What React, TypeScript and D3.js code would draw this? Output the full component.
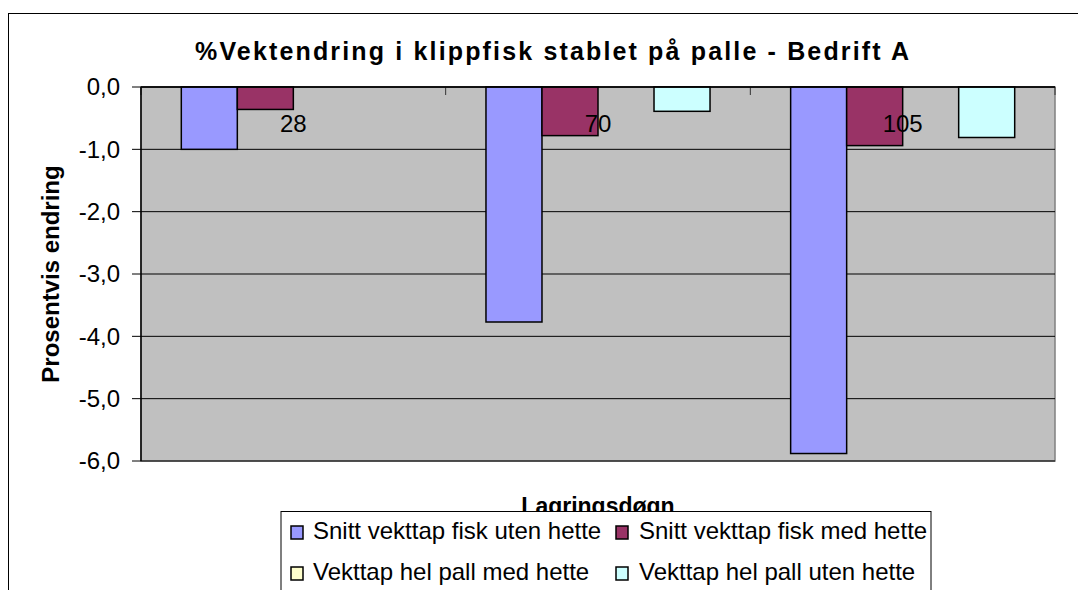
import React from "react";
import * as d3 from "d3";

const categories = ["28", "70", "105"];
const seriesNames = [
  "Snitt vekttap fisk uten hette",
  "Snitt vekttap fisk med hette",
  "Vekttap hel pall med hette",
  "Vekttap hel pall uten hette",
];
const snittUten: (number | null)[] = [-1.0, -3.77, -5.88];
const snittMed: (number | null)[] = [-0.36, -0.78, -0.94];
const pallMed: (number | null)[] = [null, null, null];
const pallUten: (number | null)[] = [null, -0.39, -0.81];
const yTicks = [0, -1, -2, -3, -4, -5, -6];
const colors = ["#9999FF", "#993366", "#FFFFCC", "#CCFFFF"];

const title = "%Vektendring i klippfisk stablet på palle - Bedrift A";
const yTitle = "Prosentvis endring";
const xTitle = "Lagringsdøgn";

export default function App() {
  const W = 1078;
  const H = 590;
  const left = 141;
  const right = 1055;
  const top = 87;
  const bottom = 461;
  const font = "'Liberation Sans', Arial, sans-serif";

  const values = [snittUten, snittMed, pallMed, pallUten];
  const y = d3.scaleLinear().domain([0, -6]).range([top, bottom]);
  const x0 = d3.scaleBand<string>().domain(categories).range([left, right]).padding(0);
  const bw = x0.bandwidth();
  const gap = bw * 0.1323;
  const x1 = d3
    .scaleBand<string>()
    .domain(seriesNames)
    .range([gap, bw - gap])
    .padding(0);

  const bars: React.ReactNode[] = [];
  categories.forEach((c, ci) => {
    seriesNames.forEach((s, si) => {
      const v = values[si][ci];
      if (v === null || v === undefined) return;
      const bx = (x0(c) as number) + (x1(s) as number);
      bars.push(
        <rect
          key={`${c}-${s}`}
          x={bx}
          y={y(0)}
          width={x1.bandwidth()}
          height={y(v) - y(0)}
          fill={colors[si]}
          stroke="#000"
          strokeWidth={1.5}
        />
      );
    });
  });

  const legendItems = [
    { i: 0, sx: 291, tx: 313, by: 539 },
    { i: 1, sx: 616, tx: 639, by: 539 },
    { i: 2, sx: 291, tx: 313, by: 580 },
    { i: 3, sx: 616, tx: 639, by: 580 },
  ];

  const catTicks = [...categories.map((c) => x0(c) as number), right];

  return (
    <svg
      width={W}
      height={H}
      style={{ position: "absolute", left: 0, top: 0, background: "#fff" }}
      fontFamily={font}
    >
      <rect x={0} y={0} width={W} height={H} fill="#fff" />
      {/* chart area border */}
      <rect x={8.5} y={13.5} width={1200} height={700} fill="#fff" stroke="#000" strokeWidth={1} />
      {/* title */}
      <text
        x={552}
        y={60}
        textAnchor="middle"
        fontSize={25}
        fontWeight="bold"
        textLength={714}
        lengthAdjust="spacing"
      >
        {title}
      </text>
      {/* plot area */}
      <rect x={left} y={top} width={right - left} height={bottom - top} fill="#C0C0C0" stroke="#808080" strokeWidth={1.5} />
      {yTicks.map((t) => (
        <g key={t}>
          <line x1={left} x2={right} y1={y(t)} y2={y(t)} stroke="#000" strokeWidth={1} />
          <line x1={132} x2={left} y1={y(t)} y2={y(t)} stroke="#000" strokeWidth={1} />
          <text x={120} y={y(t)} dy="0.35em" textAnchor="end" fontSize={24}>
            {d3.format(".1f")(t).replace(".", ",").replace("−", "-")}
          </text>
        </g>
      ))}
      {catTicks.map((tx, i) => (
        <line key={i} x1={tx} x2={tx} y1={top} y2={top + 8} stroke="#333" strokeWidth={1} />
      ))}
      {bars}
      <line x1={left} x2={left} y1={top} y2={bottom} stroke="#000" strokeWidth={1.5} />
      <line x1={left} x2={right} y1={top} y2={top} stroke="#000" strokeWidth={1.5} />
      {categories.map((c) => (
        <text key={c} x={(x0(c) as number) + bw / 2} y={132} textAnchor="middle" fontSize={24}>
          {c}
        </text>
      ))}
      {/* y axis title */}
      <text
        transform={`translate(59, ${(top + bottom) / 2}) rotate(-90)`}
        textAnchor="middle"
        fontSize={24}
        fontWeight="bold"
      >
        {yTitle}
      </text>
      {/* x axis title */}
      <text x={(left + right) / 2} y={514} textAnchor="middle" fontSize={23} fontWeight="bold">
        {xTitle}
      </text>
      {/* legend */}
      <rect x={281} y={511.5} width={650} height={200} fill="#fff" stroke="#000" strokeWidth={1} />
      {legendItems.map((l) => (
        <g key={l.i}>
          <rect x={l.sx} y={l.by - 13} width={12} height={13} fill={colors[l.i]} stroke="#000" strokeWidth={1.5} />
          <text x={l.tx} y={l.by} fontSize={24}>
            {seriesNames[l.i]}
          </text>
        </g>
      ))}
    </svg>
  );
}
